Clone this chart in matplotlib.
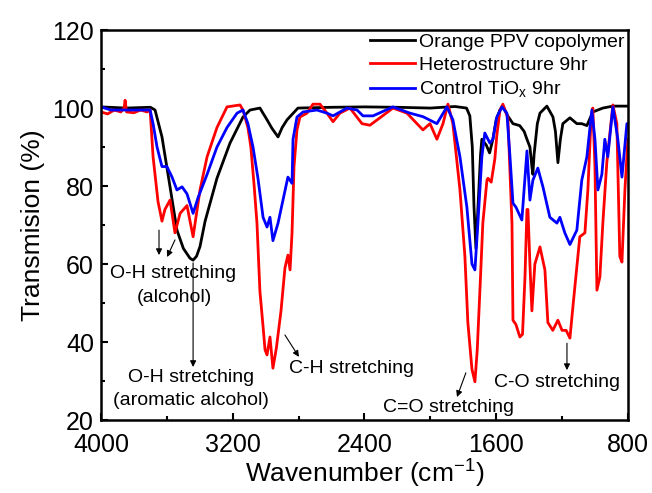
import matplotlib
matplotlib.use("Agg")
import matplotlib.pyplot as plt
from matplotlib.ticker import MultipleLocator

plt.rcParams['font.family'] = ['Liberation Sans', 'DejaVu Sans']

# Orange PPV copolymer
w_ppv = [4000, 3850, 3700, 3672, 3630, 3581, 3539, 3500, 3460, 3441, 3420, 3399, 3368, 3296, 3217,
         3138, 3095, 3035, 2992, 2962, 2940, 2925, 2900, 2870, 2804, 2600, 2400, 2200, 2000, 1850,
         1780, 1760, 1745, 1735, 1723, 1710, 1695, 1687, 1660, 1640, 1620, 1600, 1577, 1560, 1530,
         1498, 1457, 1430, 1413, 1395, 1383, 1377, 1370, 1350, 1334, 1292, 1255, 1240, 1225, 1210,
         1195, 1152, 1110, 1080, 1049, 1013, 952, 891, 806]
t_ppv = [100.3, 100, 100.2, 99.5, 92.6, 79.8, 68.7, 64, 61.5, 61, 62, 64.5, 71, 82, 91,
         97.7, 99.5, 100, 97, 94.8, 93.5, 92.6, 95, 97, 100, 100.2, 100.3, 100.2, 100, 100.4,
         100, 98, 90, 75, 64, 75, 88, 92, 90.5, 88.5, 92, 97, 99.5, 100.5, 98,
         96, 95.5, 94, 92, 90, 85, 83, 88, 96, 98.7, 100.5, 97.7, 94, 86, 92,
         96, 97.5, 96, 96, 95.5, 99, 100, 100.5, 100.5]

# Heterostructure 9hr
w_het = [4000, 3960, 3920, 3880, 3860, 3854, 3845, 3800, 3760, 3720, 3702, 3684, 3654, 3630, 3612,
         3581, 3551, 3520, 3478, 3441, 3399, 3356, 3296, 3235, 3156, 3138, 3108, 3090, 3070, 3053,
         3035, 3016, 3004, 2992, 2974, 2956, 2935, 2907, 2883, 2865, 2852, 2840, 2828, 2810, 2792,
         2749, 2713, 2670, 2628, 2591, 2549, 2488, 2415, 2367, 2306, 2227, 2142, 2081, 2045, 2002,
         1960, 1923, 1893, 1863, 1820, 1790, 1772, 1747, 1729, 1715, 1699, 1681, 1656, 1650, 1630,
         1608, 1596, 1577, 1559, 1529, 1504, 1498, 1480, 1456, 1440, 1425, 1413, 1407, 1395, 1383,
         1365, 1334, 1304, 1286, 1256, 1225, 1200, 1175, 1152, 1134, 1092, 1061, 1043, 1025, 1013,
         1000, 988, 970, 952, 928, 891, 867, 849, 836, 818, 800]
t_het = [99, 98.5, 99.5, 99, 100, 102, 99, 98.8, 99.5, 99, 99.5, 87.5, 76, 71, 74,
         76.4, 68, 73, 75, 67, 79, 87.5, 95, 100.3, 100.8, 99.5, 95, 90, 80, 70.5,
         53, 44, 38, 36.7, 41.3, 33.3, 38.5, 48, 59, 62.3, 58.5, 68, 85, 94.4, 97.7,
         98.7, 101, 101, 98.7, 96.5, 98.7, 100, 96, 95.6, 97.5, 100, 98.7, 96, 94.4, 96,
         92, 96, 101, 96, 79, 62, 45, 33, 29.8, 38, 53, 70.5, 81.5, 82, 81,
         87, 93, 99.5, 101, 97.5, 70.5, 45.6, 44.5, 41.3, 42, 56.7, 74, 74, 60, 48,
         60, 64.4, 58.5, 45, 43, 45.6, 43, 43, 41, 49, 67, 68, 79, 96, 100,
         85, 53.3, 56.7, 70.5, 86, 100.8, 96, 62, 60.5, 79, 92]

# Control TiOx 9hr
w_tio = [4000, 3940, 3850, 3760, 3702, 3684, 3660, 3630, 3600, 3569, 3539, 3508, 3478, 3441, 3411,
         3356, 3296, 3235, 3174, 3138, 3108, 3077, 3047, 3016, 2992, 2974, 2956, 2925, 2895, 2865,
         2840, 2834, 2810, 2773, 2689, 2628, 2591, 2506, 2445, 2409, 2348, 2227, 2124, 2045, 1960,
         1899, 1863, 1820, 1778, 1747, 1729, 1711, 1687, 1669, 1638, 1620, 1596, 1565, 1535, 1516,
         1498, 1480, 1444, 1413, 1395, 1377, 1347, 1316, 1274, 1231, 1213, 1183, 1152, 1110, 1080,
         1049, 1019, 1000, 982, 958, 940, 922, 891, 861, 836, 806, 800]
t_tio = [100.3, 99.5, 99.5, 99.5, 99.5, 96, 90, 85, 85, 82.3, 79, 79.8, 78, 73, 77,
         83, 90, 95, 98.7, 99.5, 96, 90, 82, 72, 69.5, 72, 66, 70.5, 76.4, 82.3,
         80.7, 92, 97.7, 99, 99.5, 98.7, 98, 100, 99.5, 98, 98, 100.3, 98.7, 97.8, 96,
         100.3, 97, 87.5, 74.6, 60, 58.5, 70.5, 87.5, 93.6, 91, 92, 97.7, 100.3, 98.7, 87.5,
         75.6, 74.6, 71.3, 89, 76.4, 81.5, 84.6, 79.8, 72, 70.5, 72, 68, 65, 68.7, 81.5,
         87.5, 99.5, 92, 79, 83, 92, 87.5, 100.3, 92, 82.3, 96, 96]

labels = ['Orange PPV copolymer', 'Heterostructure 9hr', 'Control TiO$_\\mathregular{x}$ 9hr']

fig = plt.figure(figsize=(6.52, 4.93), dpi=100)
ax = fig.add_axes([0.155, 0.148, 0.808, 0.791])

ax.plot(w_ppv, t_ppv, color='black', lw=2, label=labels[0])
ax.plot(w_het, t_het, color='#ff0000', lw=2, label=labels[1])
ax.plot(w_tio, t_tio, color='#0000ff', lw=2, label=labels[2])

ax.set_xlim(4000, 800)
ax.set_ylim(20, 120)
ax.xaxis.set_major_locator(MultipleLocator(800))
ax.xaxis.set_minor_locator(MultipleLocator(400))
ax.yaxis.set_major_locator(MultipleLocator(20))
ax.yaxis.set_minor_locator(MultipleLocator(10))
ax.tick_params(which='both', direction='in', top=False, right=False, labelsize=18, width=1.5)
ax.tick_params(which='major', length=5)
ax.tick_params(which='minor', length=3)
ax.tick_params(axis='x', pad=9)
ax.tick_params(axis='y', pad=5)
for s in ax.spines.values():
    s.set_linewidth(1.8)

ax.set_xlabel('Wavenumber (cm$^\\mathregular{-1}$)', fontsize=19, labelpad=0)
ax.set_ylabel('Transmision (%)', fontsize=19, labelpad=5)

ax.legend(loc='upper right', bbox_to_anchor=(1.0, 1.0), frameon=False, fontsize=14,
          handlelength=2.3, handletextpad=0.25, labelspacing=0.3, borderpad=0.15, borderaxespad=0)

arr = dict(arrowstyle='-|>', lw=0.8, color='black', mutation_scale=9, shrinkA=0, shrinkB=0)
fs = 14
# O-H stretching (alcohol)
ax.annotate('', xy=(3648, 62.3), xytext=(3648, 68.7), arrowprops=arr)
ax.annotate('', xy=(3599, 61.8), xytext=(3551, 66.2), arrowprops=arr)
ax.text(3563, 57.7, 'O-H stretching', ha='center', va='center', fontsize=fs)
ax.text(3557, 51.3, '(alcohol)', ha='center', va='center', fontsize=fs)
# O-H stretching (aromatic alcohol)
ax.annotate('', xy=(3441, 33.6), xytext=(3441, 60.3), arrowprops=arr)
ax.text(3453, 31.0, 'O-H stretching', ha='center', va='center', fontsize=fs)
ax.text(3453, 25.1, '(aromatic alcohol)', ha='center', va='center', fontsize=fs)
# C-H stretching
ax.annotate('', xy=(2798, 36.2), xytext=(2883, 41.8), arrowprops=arr)
ax.text(2476, 33.3, 'C-H stretching', ha='center', va='center', fontsize=fs)
# C=O stretching
ax.annotate('', xy=(1838, 25.9), xytext=(1784, 32.1), arrowprops=arr)
ax.text(1887, 23.3, 'C=O stretching', ha='center', va='center', fontsize=fs)
# C-O stretching
ax.annotate('', xy=(1170, 32.8), xytext=(1170, 39.7), arrowprops=arr)
ax.text(1231, 29.5, 'C-O stretching', ha='center', va='center', fontsize=fs)

fig.savefig('out.png', dpi=100)
